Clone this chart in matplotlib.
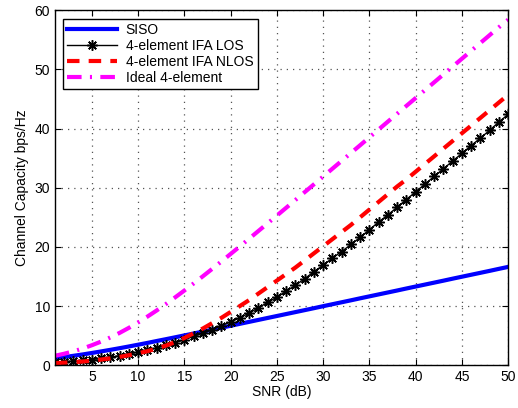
import numpy as np
import matplotlib.pyplot as plt

plt.rcParams['font.family'] = ['Liberation Sans', 'DejaVu Sans']

snr_db = np.arange(1, 51)

siso = [1.18, 1.37, 1.58, 1.81, 2.06, 2.32, 2.59, 2.87, 3.16, 3.46,
        3.76, 4.08, 4.39, 4.71, 5.03, 5.35, 5.68, 6.00, 6.33, 6.66,
        6.99, 7.32, 7.65, 7.98, 8.31, 8.64, 8.97, 9.30, 9.63, 9.97,
        10.30, 10.63, 10.96, 11.30, 11.63, 11.96, 12.29, 12.62, 12.96, 13.29,
        13.62, 13.95, 14.28, 14.62, 14.95, 15.28, 15.61, 15.94, 16.28, 16.61]

ifa_los = [0.50, 0.58, 0.68, 0.80, 0.95, 1.15, 1.35, 1.60, 1.90, 2.20,
           2.55, 2.90, 3.35, 3.80, 4.30, 4.85, 5.40, 6.00, 6.65, 7.30,
           8.00, 8.80, 9.70, 10.60, 11.50, 12.50, 13.50, 14.60, 15.80, 16.90,
           18.10, 19.20, 20.40, 21.60, 22.90, 24.20, 25.40, 26.70, 28.00, 29.30,
           30.60, 31.90, 33.20, 34.50, 35.80, 37.10, 38.40, 39.70, 41.10, 42.40]

ifa_nlos = [0.35, 0.42, 0.50, 0.62, 0.77, 0.95, 1.15, 1.40, 1.68, 2.00,
            2.37, 2.80, 3.30, 3.90, 4.60, 5.40, 6.20, 7.10, 8.00, 9.00,
            10.00, 11.00, 12.10, 13.20, 14.30, 15.40, 16.50, 17.70, 18.90, 20.10,
            21.30, 22.50, 23.70, 25.00, 26.30, 27.60, 28.90, 30.20, 31.40, 32.70,
            34.00, 35.30, 36.60, 37.90, 39.20, 40.50, 41.80, 43.10, 44.40, 45.70]

ideal = [1.58, 1.93, 2.34, 2.81, 3.37, 3.99, 4.69, 5.46, 6.31, 7.23,
         8.21, 9.24, 10.33, 11.46, 12.62, 13.81, 15.03, 16.27, 17.53, 18.80,
         20.08, 21.38, 22.68, 23.98, 25.29, 26.60, 27.92, 29.24, 30.56, 31.88,
         33.21, 34.53, 35.86, 37.18, 38.51, 39.84, 41.17, 42.50, 43.83, 45.15,
         46.48, 47.81, 49.14, 50.47, 51.80, 53.13, 54.46, 55.79, 57.12, 58.40]

fig = plt.figure(figsize=(5.18, 4.08), dpi=100)
ax = fig.add_axes([0.106, 0.105, 0.875, 0.870])

ax.plot(snr_db, siso, color='#0000ff', lw=3, label='SISO')
ax.plot(snr_db, ifa_los, color='black', lw=1, marker=(8, 2, 0), ms=7.5, mew=1.1,
        label='4-element IFA LOS')
ax.plot(snr_db, ifa_nlos, color='red', lw=3, ls=(0, (3, 2.2)), label='4-element IFA NLOS')
ax.plot(snr_db, ideal, color='magenta', lw=3, ls=(0, (3.5, 2, 0.5, 2)),
        label='Ideal 4-element')

ax.set_xlim(1, 50)
ax.set_ylim(0, 60)
ax.set_xticks(range(5, 51, 5))
ax.set_yticks(range(0, 61, 10))
ax.tick_params(direction='in', top=True, right=True, labelsize=10, length=4)
ax.grid(True, ls=(0, (1, 4)), color='#555555', lw=0.9)
for s in ax.spines.values():
    s.set_linewidth(1)

ax.set_xlabel('SNR (dB)', fontsize=10, labelpad=1)
ax.set_ylabel('Channel Capacity bps/Hz', fontsize=10, labelpad=4)

leg = ax.legend(loc='upper left', fontsize=10, fancybox=False, framealpha=1,
                edgecolor='black', handlelength=3.6, borderaxespad=0.6,
                labelspacing=0.15, borderpad=0.3, handletextpad=0.6)
leg.get_frame().set_linewidth(1)

fig.savefig('out.png', dpi=100)
